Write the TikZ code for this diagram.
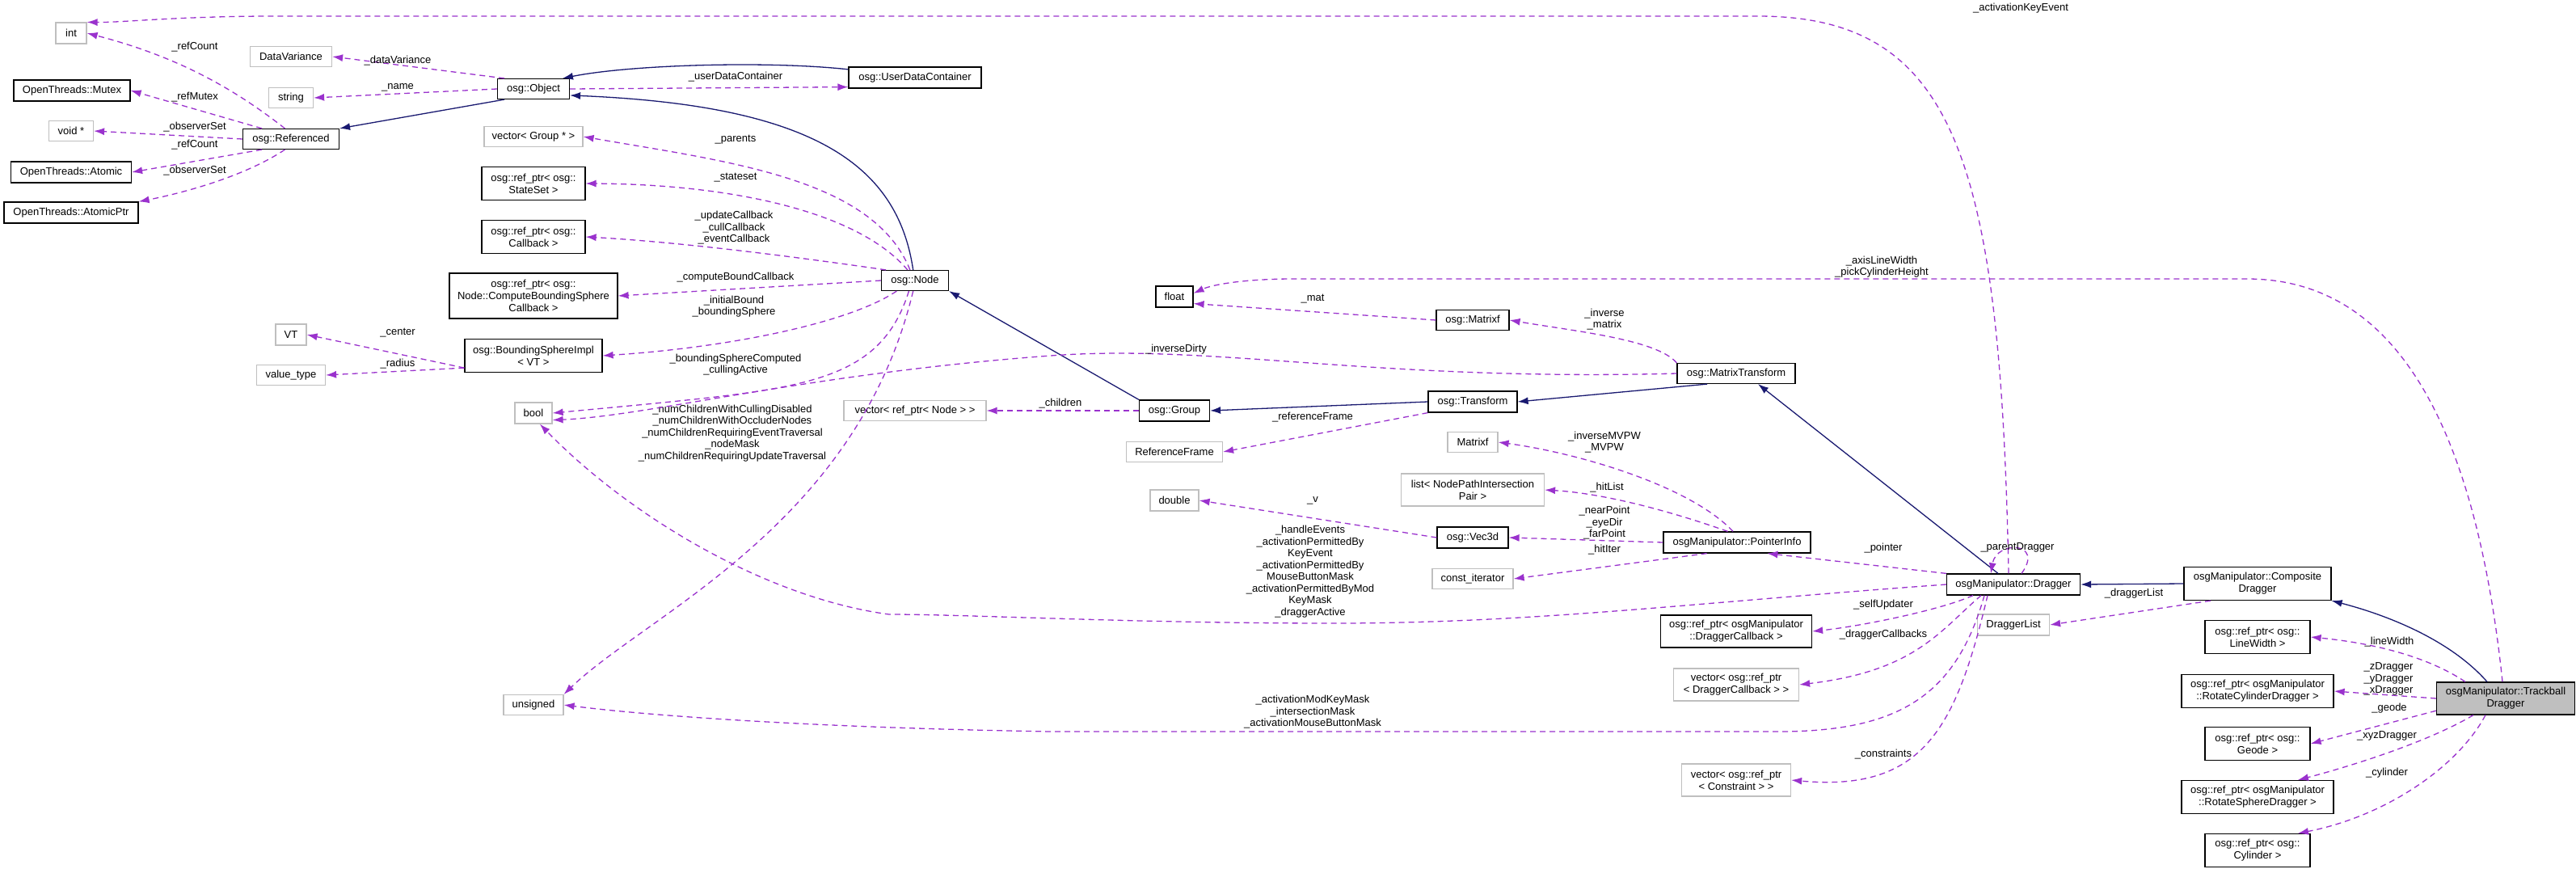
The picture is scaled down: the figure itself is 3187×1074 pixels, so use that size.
\documentclass[tikz,border=0pt]{standalone}
\usepackage{fontspec}
\setmainfont{Liberation Sans}
\usetikzlibrary{arrows.meta}
\definecolor{inhc}{HTML}{191970}
\definecolor{memc}{HTML}{9A32CD}
\definecolor{extc}{HTML}{BFBFBF}
\tikzset{
 box/.style={draw, line width=1.2pt, fill=white, align=center, inner sep=0pt, font=\fontsize{13}{15}\selectfont},
 cls/.style={box, draw=black},
 ext/.style={box, draw=extc},
 cur/.style={box, draw=black, fill=black!25},
 inh/.style={draw=inhc, line width=1.3pt, -{Latex[length=13pt,width=9pt]}},
 mem/.style={draw=memc, line width=1.3pt, dashed, dash pattern=on 7pt off 5pt, -{Latex[length=13pt,width=9pt]}},
 lbl/.style={align=center, inner sep=0pt, font=\fontsize{13}{14.5}\selectfont}
}
\newcommand{\bx}[7]{\node[#6, minimum width=#4pt, minimum height=#5pt] (#1) at (#2,#3) {#7};}
\begin{document}
\begin{tikzpicture}[x=1pt,y=-1pt]
\useasboundingbox (0,0) rectangle (3187,1074);
\bx{int}{88}{41}{38}{26}{ext}{int}
\bx{mutex}{89}{112}{144}{26}{cls}{OpenThreads::Mutex}
\bx{voidp}{88}{162}{55}{25}{ext}{void *}
\bx{atomic}{88}{213}{149}{26}{cls}{OpenThreads::Atomic}
\bx{atomicptr}{88}{263}{166}{26}{cls}{OpenThreads::AtomicPtr}
\bx{datavar}{360}{70}{101}{25}{ext}{DataVariance}
\bx{string}{360}{121}{55}{25}{ext}{string}
\bx{referenced}{360}{172}{119}{25}{cls}{osg::Referenced}
\bx{object}{660}{110}{89}{25}{cls}{osg::Object}
\bx{udc}{1132}{96}{164}{26}{cls}{osg::UserDataContainer}
\bx{vecgroup}{660}{169}{122}{25}{ext}{vector< Group * >}
\bx{stateset}{660}{227}{128}{41}{cls}{osg::ref\_ptr< osg::\\StateSet >}
\bx{callback}{660}{293}{128}{41}{cls}{osg::ref\_ptr< osg::\\Callback >}
\bx{cbs}{660}{366}{208}{56}{cls}{osg::ref\_ptr< osg::\\Node::ComputeBoundingSphere\\Callback >}
\bx{vt}{360}{414}{38}{26}{ext}{VT}
\bx{bsi}{660}{440}{170}{41}{cls}{osg::BoundingSphereImpl\\< VT >}
\bx{valtype}{360}{464}{85}{25}{ext}{value\_type}
\bx{bool}{660}{511}{46}{26}{ext}{bool}
\bx{unsigned}{660}{872}{74}{25}{ext}{unsigned}
\bx{node}{1132}{347}{83}{25}{cls}{osg::Node}
\bx{vecnode}{1132}{508}{176}{25}{ext}{vector< ref\_ptr< Node > >}
\bx{float}{1453}{367}{46}{26}{cls}{float}
\bx{group}{1453}{508}{87}{26}{cls}{osg::Group}
\bx{refframe}{1453}{559}{119}{25}{ext}{ReferenceFrame}
\bx{double}{1453}{619}{60}{26}{ext}{double}
\bx{matrixf}{1822}{396}{90}{25}{cls}{osg::Matrixf}
\bx{transform}{1822}{497}{110}{26}{cls}{osg::Transform}
\bx{matrixfx}{1822}{547}{62}{25}{ext}{Matrixf}
\bx{list}{1822}{606}{177}{40}{ext}{list< NodePathIntersection\\Pair >}
\bx{vec3d}{1822}{665}{88}{26}{cls}{osg::Vec3d}
\bx{constit}{1822}{716}{100}{25}{ext}{const\_iterator}
\bx{mt}{2148}{462}{146}{25}{cls}{osg::MatrixTransform}
\bx{pinfo}{2149}{671}{182}{26}{cls}{osgManipulator::PointerInfo}
\bx{dcb}{2148}{781}{187}{40}{cls}{osg::ref\_ptr< osgManipulator\\::DraggerCallback >}
\bx{vdcb}{2148}{847}{155}{40}{ext}{vector< osg::ref\_ptr\\< DraggerCallback > >}
\bx{vcons}{2148}{965}{135}{40}{ext}{vector< osg::ref\_ptr\\< Constraint > >}
\bx{dragger}{2491}{723}{165}{26}{cls}{osgManipulator::Dragger}
\bx{draggerlist}{2491}{773}{89}{26}{ext}{DraggerList}
\bx{composite}{2793}{722}{182}{41}{cls}{osgManipulator::Composite\\Dragger}
\bx{linewidth}{2793}{788}{130}{41}{cls}{osg::ref\_ptr< osg::\\LineWidth >}
\bx{rcyl}{2793}{855}{188}{41}{cls}{osg::ref\_ptr< osgManipulator\\::RotateCylinderDragger >}
\bx{geode}{2793}{920}{130}{41}{cls}{osg::ref\_ptr< osg::\\Geode >}
\bx{rsph}{2793}{986}{188}{41}{cls}{osg::ref\_ptr< osgManipulator\\::RotateSphereDragger >}
\bx{cyl}{2793}{1052}{130}{41}{cls}{osg::ref\_ptr< osg::\\Cylinder >}
\bx{trackball}{3100}{864}{171}{40}{cur}{osgManipulator::Trackball\\Dragger}
% inheritance
\draw[inh] (object.200) -- (referenced.north east);
\draw[inh] (udc.173) .. controls (950,75) and (780,80) .. (object.20);
\draw[inh] (node.100) .. controls (1110,200) and (1000,130) .. (object.-10);
\draw[inh] (group.north west) -- (node.south east);
\draw[inh] (transform.west) -- (group.east);
\draw[inh] (mt.200) -- (transform.east);
\draw[inh] ([xshift=-19pt]dragger.north) -- ([xshift=27pt]mt.south);
\draw[inh] (composite.west) -- (dragger.east);
\draw[inh] ([xshift=-23pt]trackball.north) .. controls (3030,790) and (2950,760) .. (composite.south east);
% members
\draw[mem] (referenced.120) .. controls (290,110) and (220,70) .. (int.east);
\node[lbl] at (241,58) {\_refCount};
\draw[mem] ([xshift=-6pt]dragger.north) .. controls (2475,200) and (2420,20) .. (2175,20) -- (340,20) .. controls (220,20) and (150,28) .. (int.north east);
\node[lbl] at (2500,10) {\_activationKeyEvent};
\draw[mem] (object.160) -- (datavar.east);
\node[lbl] at (492,75) {\_dataVariance};
\draw[mem] (object.west) -- (string.east);
\node[lbl] at (492,108) {\_name};
\draw[mem] (referenced.160) -- (mutex.east);
\node[lbl] at (241,120) {\_refMutex};
\draw[mem] (referenced.west) -- (voidp.east);
\node[lbl] at (241,157) {\_observerSet};
\draw[mem] (referenced.200) -- (atomic.east);
\node[lbl] at (241,179) {\_refCount};
\draw[mem] (referenced.-120) .. controls (300,220) and (220,240) .. (atomicptr.north east);
\node[lbl] at (241,211) {\_observerSet};
\draw[mem] (object.east) -- (udc.188);
\node[lbl] at (910,95) {\_userDataContainer};
\draw[mem] (node.115) .. controls (1080,220) and (900,200) .. (vecgroup.east);
\node[lbl] at (910,173) {\_parents};
\draw[mem] (node.125) .. controls (1060,260) and (900,228) .. (stateset.east);
\node[lbl] at (910,220) {\_stateset};
\draw[mem] (node.160) .. controls (1000,320) and (850,300) .. (callback.east);
\node[lbl] at (908,282) {\_updateCallback\\\_cullCallback\\\_eventCallback};
\draw[mem] (node.west) -- (cbs.east);
\node[lbl] at (910,343) {\_computeBoundCallback};
\draw[mem] (node.-150) .. controls (1050,400) and (900,430) .. (bsi.east);
\node[lbl] at (908,379) {\_initialBound\\\_boundingSphere};
\draw[mem] (node.-120) .. controls (1090,470) and (1000,480) .. (800,500) -- (bool.east);
\node[lbl] at (910,451) {\_boundingSphereComputed\\\_cullingActive};
\draw[mem] (node.-100) .. controls (1060,650) and (800,760) .. (unsigned.north east);
\node[lbl] at (906,536) {\_numChildrenWithCullingDisabled\\\_numChildrenWithOccluderNodes\\\_numChildrenRequiringEventTraversal\\\_nodeMask\\\_numChildrenRequiringUpdateTraversal};
\draw[mem] (bsi.190) -- (vt.east);
\node[lbl] at (492,412) {\_center};
\draw[mem] (bsi.-170) -- (valtype.east);
\node[lbl] at (492,450) {\_radius};
\draw[mem] (mt.west) .. controls (1700,472) and (1500,425) .. (1300,440) .. controls (1000,462) and (800,515) .. (bool.-20);
\node[lbl] at (1455,432) {\_inverseDirty};
\draw[mem] (group.west) -- (vecnode.east);
\node[lbl] at (1312,499) {\_children};
\draw[mem] (transform.south west) -- (refframe.east);
\node[lbl] at (1624,516) {\_referenceFrame};
\draw[mem] (matrixf.west) -- (float.-20);
\node[lbl] at (1624,370) {\_mat};
\draw[mem] ([xshift=-4pt]trackball.north) .. controls (3060,500) and (2950,345) .. (2780,345) -- (1600,345) .. controls (1540,345) and (1500,352) .. (float.10);
\node[lbl] at (2328,330) {\_axisLineWidth\\\_pickCylinderHeight};
\draw[mem] (mt.north west) .. controls (2050,420) and (1950,410) .. (matrixf.east);
\node[lbl] at (1985,395) {\_inverse\\\_matrix};
\draw[mem] (pinfo.110) .. controls (2090,600) and (1950,560) .. (matrixfx.east);
\node[lbl] at (1985,547) {\_inverseMVPW\\\_MVPW};
\draw[mem] (pinfo.130) .. controls (2060,630) and (1980,610) .. (list.east);
\node[lbl] at (1988,603) {\_hitList};
\draw[mem] (pinfo.west) -- (vec3d.east);
\node[lbl] at (1985,647) {\_nearPoint\\\_eyeDir\\\_farPoint};
\draw[mem] (pinfo.-160) -- (constit.east);
\node[lbl] at (1985,680) {\_hitIter};
\draw[mem] (vec3d.west) -- (double.east);
\node[lbl] at (1624,619) {\_v};
\draw[mem] (dragger.north west) -- (pinfo.-20);
\node[lbl] at (2330,678) {\_pointer};
\draw[mem] ([xshift=10pt]dragger.north) .. controls (2530,670) and (2470,668) .. ([xshift=-28pt]dragger.north);
\node[lbl] at (2496,677) {\_parentDragger};
\draw[mem] (dragger.west) .. controls (2100,745) and (1900,771) .. (1650,771) .. controls (1400,771) and (1200,760) .. (1100,760) .. controls (950,740) and (780,640) .. (bool.-60);
\node[lbl] at (1621,707) {\_handleEvents\\\_activationPermittedBy\\KeyEvent\\\_activationPermittedBy\\MouseButtonMask\\\_activationPermittedByMod\\KeyMask\\\_draggerActive};
\draw[mem] ([xshift=-50pt]dragger.south) .. controls (2400,755) and (2300,775) .. (dcb.east);
\node[lbl] at (2330,748) {\_selfUpdater};
\draw[mem] ([xshift=-40pt]dragger.south) .. controls (2400,780) and (2370,830) .. (vdcb.east);
\node[lbl] at (2330,785) {\_draggerCallbacks};
\draw[mem] ([xshift=-32pt]dragger.south) .. controls (2420,900) and (2380,980) .. (vcons.east);
\node[lbl] at (2330,933) {\_constraints};
\draw[mem] ([xshift=-36pt]dragger.south) .. controls (2420,860) and (2350,905) .. (2200,905) -- (1300,905) .. controls (1000,900) and (800,885) .. (unsigned.east);
\node[lbl] at (1624,881) {\_activationModKeyMask\\\_intersectionMask\\\_activationMouseButtonMask};
\draw[mem] (composite.-160) -- (draggerlist.east);
\node[lbl] at (2640,734) {\_draggerList};
\draw[mem] ([xshift=-50pt]trackball.north) .. controls (3000,810) and (2930,795) .. (linewidth.east);
\node[lbl] at (2956,794) {\_lineWidth};
\draw[mem] (trackball.west) -- (rcyl.east);
\node[lbl] at (2955,840) {\_zDragger\\\_yDragger\\\_xDragger};
\draw[mem] (trackball.-170) -- (geode.east);
\node[lbl] at (2956,876) {\_geode};
\draw[mem] ([xshift=-40pt]trackball.south) .. controls (3000,920) and (2900,950) .. ([xshift=50pt]rsph.north);
\node[lbl] at (2953,910) {\_xyzDragger};
\draw[mem] ([xshift=-25pt]trackball.south) .. controls (3040,950) and (2950,1010) .. ([xshift=50pt]cyl.north);
\node[lbl] at (2953,956) {\_cylinder};
\end{tikzpicture}
\end{document}
